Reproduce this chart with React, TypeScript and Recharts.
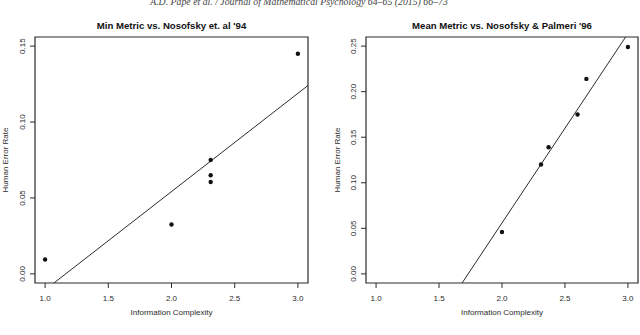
import {
  ScatterChart, Scatter, XAxis, YAxis, ReferenceLine, ReferenceArea,
} from 'recharts';

// Min Metric vs. Nosofsky et. al '94
const minX = [1.0, 2.0, 2.31, 2.31, 2.31, 3.0];
const minY = [0.0095, 0.0325, 0.075, 0.065, 0.0605, 0.145];
const minFit = [-0.0752, 0.0647]; // intercept, slope
const minYTicks = [0, 0.05, 0.1, 0.15];
const minYDomain = [-0.006, 0.156];

// Mean Metric vs. Nosofsky & Palmeri '96
const meanX = [2.0, 2.31, 2.37, 2.6, 2.67, 3.0];
const meanY = [0.046, 0.12, 0.139, 0.175, 0.214, 0.249];
const meanFit = [-0.3599, 0.2079];
const meanYTicks = [0, 0.05, 0.1, 0.15, 0.2, 0.25];
const meanYDomain = [-0.01, 0.26];

const xTicks = [1.0, 1.5, 2.0, 2.5, 3.0];
const xDomain = [0.92, 3.08];

const INK = '#2b2b2b';
const FONT = '"Liberation Sans", Arial, Helvetica, sans-serif';

// clip the fitted line to the plotting box
function fitSegment(fit: number[], yDomain: number[]) {
  const [b, m] = fit;
  let x0 = xDomain[0];
  let y0 = b + m * x0;
  if (y0 < yDomain[0]) { x0 = (yDomain[0] - b) / m; y0 = yDomain[0]; }
  let x1 = xDomain[1];
  let y1 = b + m * x1;
  if (y1 > yDomain[1]) { x1 = (yDomain[1] - b) / m; y1 = yDomain[1]; }
  return [{ x: x0, y: y0 }, { x: x1, y: y1 }];
}

const Dot = (props: any) => (
  <circle cx={props.cx} cy={props.cy} r={2.2} fill="#111" />
);

const YTick = ({ x, y, payload }: any) => {
  const tx = x - 7.5;
  return (
    <text
      x={tx}
      y={y}
      transform={`rotate(-90 ${tx} ${y})`}
      textAnchor="middle"
      dominantBaseline="central"
      fontSize={8}
      fontFamily={FONT}
      fill={INK}
    >
      {payload.value.toFixed(2)}
    </text>
  );
};

const XTick = ({ x, y, payload }: any) => (
  <text x={x} y={y + 12.5} textAnchor="middle" fontSize={8} fontFamily={FONT} fill={INK}>
    {payload.value.toFixed(1)}
  </text>
);

interface PanelProps {
  xs: number[];
  ys: number[];
  fit: number[];
  yTicks: number[];
  yDomain: number[];
  margin: { top: number; right: number; bottom: number; left: number };
}

function Panel({ xs, ys, fit, yTicks, yDomain, margin }: PanelProps) {
  const points = xs.map((x, i) => ({ x, y: ys[i] }));
  return (
    <ScatterChart width={320} height={335} margin={margin}>
      <XAxis
        type="number"
        dataKey="x"
        domain={xDomain}
        ticks={xTicks}
        allowDataOverflow
        axisLine={false}
        tickLine={{ stroke: INK }}
        tickSize={5}
        tickMargin={0}
        height={32}
        tick={<XTick />}
      />
      <YAxis
        type="number"
        dataKey="y"
        domain={yDomain}
        ticks={yTicks}
        allowDataOverflow
        axisLine={false}
        tickLine={{ stroke: INK }}
        tickSize={5}
        tickMargin={0}
        width={33}
        tick={<YTick />}
      />
      <ReferenceArea
        x1={xDomain[0]}
        x2={xDomain[1]}
        y1={yDomain[0]}
        y2={yDomain[1]}
        fill="none"
        stroke={INK}
        strokeWidth={1.2}
        ifOverflow="visible"
      />
      <ReferenceLine
        segment={fitSegment(fit, yDomain)}
        stroke={INK}
        strokeWidth={1}
        ifOverflow="visible"
      />
      <Scatter data={points} shape={<Dot />} isAnimationActive={false} />
    </ScatterChart>
  );
}

const abs = (left: number, top: number, extra: any = {}) => ({
  position: 'absolute' as const,
  left,
  top,
  transform: 'translate(-50%, -50%)',
  whiteSpace: 'nowrap' as const,
  fontFamily: FONT,
  color: INK,
  zIndex: 2,
  ...extra,
});

export default function App() {
  return (
    <div style={{ position: 'fixed', left: 0, top: 0, width: 640, height: 335, overflow: 'hidden', background: '#fff' }}>
      <div style={{ position: 'absolute', left: 0, top: 0 }}>
        <Panel xs={minX} ys={minY} fit={minFit} yTicks={minYTicks} yDomain={minYDomain}
          margin={{ top: 37, right: 12, bottom: 20, left: 2 }} />
      </div>
      <div style={{ position: 'absolute', left: 320, top: 0 }}>
        <Panel xs={meanX} ys={meanY} fit={meanFit} yTicks={meanYTicks} yDomain={meanYDomain}
          margin={{ top: 37, right: 2, bottom: 20, left: 13 }} />
      </div>

      {/* running header of the journal page, cut by the crop */}
      <div
        style={{
          position: 'absolute',
          left: 299,
          top: -3,
          transform: 'translateX(-50%)',
          zIndex: 2,
          fontFamily: '"Liberation Serif", "Times New Roman", serif',
          fontStyle: 'italic',
          fontSize: 9.8,
          lineHeight: '10px',
          color: '#444',
          whiteSpace: 'nowrap',
        }}
      >
        A.D. Pape et al. / Journal of Mathematical Psychology 64–65 (2015) 66–73
      </div>

      <div style={abs(171.5, 25, { fontSize: 9.6, fontWeight: 'bold', color: '#111' })}>
        Min Metric vs. Nosofsky et. al '94
      </div>
      <div style={abs(502, 25, { fontSize: 9.6, fontWeight: 'bold', color: '#111' })}>
        Mean Metric vs. Nosofsky &amp; Palmeri '96
      </div>

      <div style={abs(171.5, 312, { fontSize: 8 })}>Information Complexity</div>
      <div style={abs(502, 312, { fontSize: 8 })}>Information Complexity</div>

      <div style={abs(5, 160, { fontSize: 8, transform: 'translate(-50%, -50%) rotate(-90deg)' })}>
        Human Error Rate
      </div>
      <div style={abs(337, 160, { fontSize: 8, transform: 'translate(-50%, -50%) rotate(-90deg)' })}>
        Human Error Rate
      </div>
    </div>
  );
}
